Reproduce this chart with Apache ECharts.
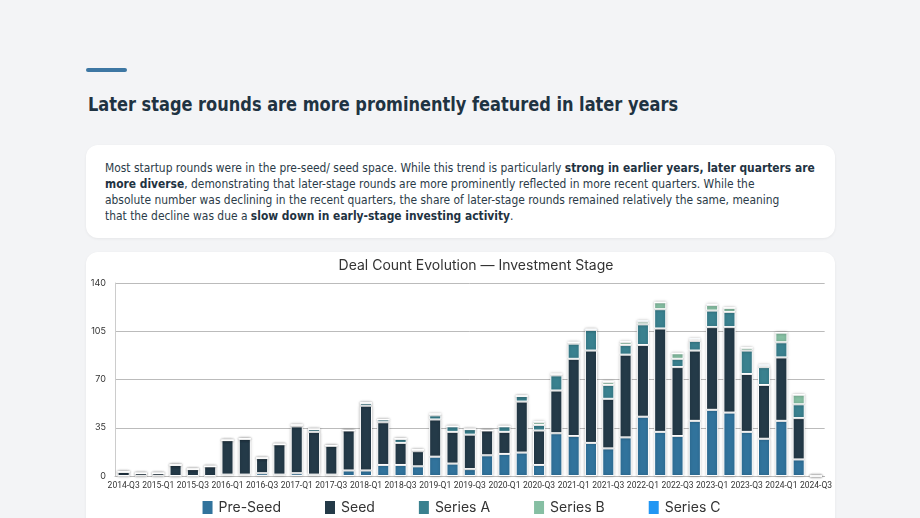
<!DOCTYPE html>
<html>
<head>
<meta charset="utf-8">
<script src="https://cdn.jsdelivr.net/npm/echarts@6/dist/echarts.min.js"></script>
<style>
  html, body { margin: 0; padding: 0; }
  body {
    width: 920px; height: 518px; overflow: hidden;
    background: #f3f4f6; position: relative;
    font-family: "DejaVu Sans Condensed", "DejaVu Sans", sans-serif;
  }
  .accent {
    position: absolute; left: 86px; top: 68px; width: 41px; height: 4px;
    border-radius: 2px; background: #3d77a3;
  }
  h1 {
    position: absolute; left: 88px; top: 92px; margin: 0;
    font-size: 20px; font-weight: 700; color: #1f3342; white-space: nowrap;
    transform: scaleX(0.9); transform-origin: left top;
  }
  .card {
    position: absolute; left: 86px; width: 749px; background: #fff;
    border-radius: 12px; box-shadow: 0 1px 3px rgba(0,0,0,0.06);
  }
  .text { top: 145px; height: 93px; }
  .text .inner {
    position: absolute; left: 19px; top: 15px; width: 780px;
    transform: scaleX(0.915); transform-origin: left top;
    font-size: 13px; line-height: 16px; color: #2b3b48;
  }
  .text b { color: #1f3342; }
  .chartcard { top: 252px; height: 290px; }
  #chart { position: absolute; left: 86px; top: 252px; width: 749px; height: 266px; }
</style>
</head>
<body>
<div class="accent"></div>
<h1>Later stage rounds are more prominently featured in later years</h1>
<div class="card text"><div class="inner">Most startup rounds were in the pre-seed/ seed space. While this trend is particularly <b>strong in earlier years, later quarters are more diverse</b>, demonstrating that later-stage rounds are more prominently reflected in more recent quarters. While the<br>absolute number was declining in the recent quarters, the share of later-stage rounds remained relatively the same, meaning<br>that the decline was due a <b>slow down in early-stage investing activity</b>.</div></div>
<div class="card chartcard"></div>
<div id="chart"></div>
<script>
// quarters 2014-Q3 .. 2024-Q3
const quarters = [];
for (let y = 2014; y <= 2024; y++) {
  for (let q = 1; q <= 4; q++) {
    if ((y === 2014 && q < 3) || (y === 2024 && q > 3)) continue;
    quarters.push(y + '-Q' + q);
  }
}

const preSeed = [0,0,0,0,0,0,1,1,2,1, 2,1,1,4,4,8,8,7,14,9, 5,15,16,17,8,31,29,24,20,28, 43,32,29,40,48,46,32,27,40,12, 0];
const seed    = [3,2,2,8,5,7,25,26,11,22, 34,31,21,29,47,31,16,11,27,23, 25,18,16,37,25,31,56,67,36,60, 52,75,50,51,60,62,42,39,46,30, 0];
const seriesA = [0,0,0,0,0,0,0,0,0,0, 1,2,0,0,2,2,3,1,3,4, 4,0,4,4,4,11,11,15,10,7, 15,14,6,7,12,11,17,13,11,10, 0];
const seriesB = [0,0,0,0,0,0,0,0,0,0, 0,0,0,0,0,0,0,0,1,0, 0,0,0,0,2,1,1,0,2,2, 2,5,4,1,4,3,2,1,7,7, 0];
const seriesC = [0,0,0,0,0,0,0,0,0,0, 0,0,0,0,0,0,0,0,0,0, 0,0,0,0,1,0,0,1,1,1, 1,0,0,1,1,0,0,1,0,0, 0];

const stages = [
  { name: 'Pre-Seed', data: preSeed, color: '#31739c' },
  { name: 'Seed', data: seed, color: '#243a48' },
  { name: 'Series A', data: seriesA, color: '#3a818f' },
  { name: 'Series B', data: seriesB, color: '#86bfa3' },
  { name: 'Series C', data: seriesC, color: '#2196f3' }
];

const chart = echarts.init(document.getElementById('chart'));
chart.setOption({
  animation: false,
  title: {
    text: 'Deal Count Evolution \u2014 Investment Stage',
    left: 385, top: 2, textAlign: 'center',
    textStyle: { fontFamily: 'Inter, sans-serif', fontSize: 14, fontWeight: 'normal', color: '#333' }
  },
  legend: {
    top: 242, left: 'center', itemWidth: 12, itemHeight: 15, itemGap: 42,
    textStyle: { fontFamily: 'Inter, sans-serif', fontSize: 14, color: '#333' },
    icon: 'rect'
  },
  grid: { left: 29, right: 8, top: 31, bottom: 42 },
  xAxis: {
    type: 'category', data: quarters,
    axisTick: { show: false },
    axisLine: { lineStyle: { color: '#bbb' } },
    axisLabel: {
      interval: 1, fontSize: 8.5, color: '#333', fontFamily: 'Roboto, sans-serif', margin: 5,
      showMinLabel: true, showMaxLabel: true, hideOverlap: false
    }
  },
  yAxis: {
    type: 'value', min: 0, max: 140, interval: 35,
    axisLine: { show: true, lineStyle: { color: '#ccc' } },
    splitLine: { lineStyle: { color: '#bbb' } },
    axisLabel: { fontSize: 9, color: '#333', fontFamily: 'Inter, sans-serif', margin: 9 }
  },
  series: stages.map(s => ({
    name: s.name, type: 'bar', stack: 'total', data: s.data,
    barWidth: '70%',
    itemStyle: {
      color: s.color, borderColor: '#fff', borderWidth: 1,
      shadowBlur: 3, shadowColor: 'rgba(0,0,0,0.25)'
    }
  }))
});
</script>
</body>
</html>
